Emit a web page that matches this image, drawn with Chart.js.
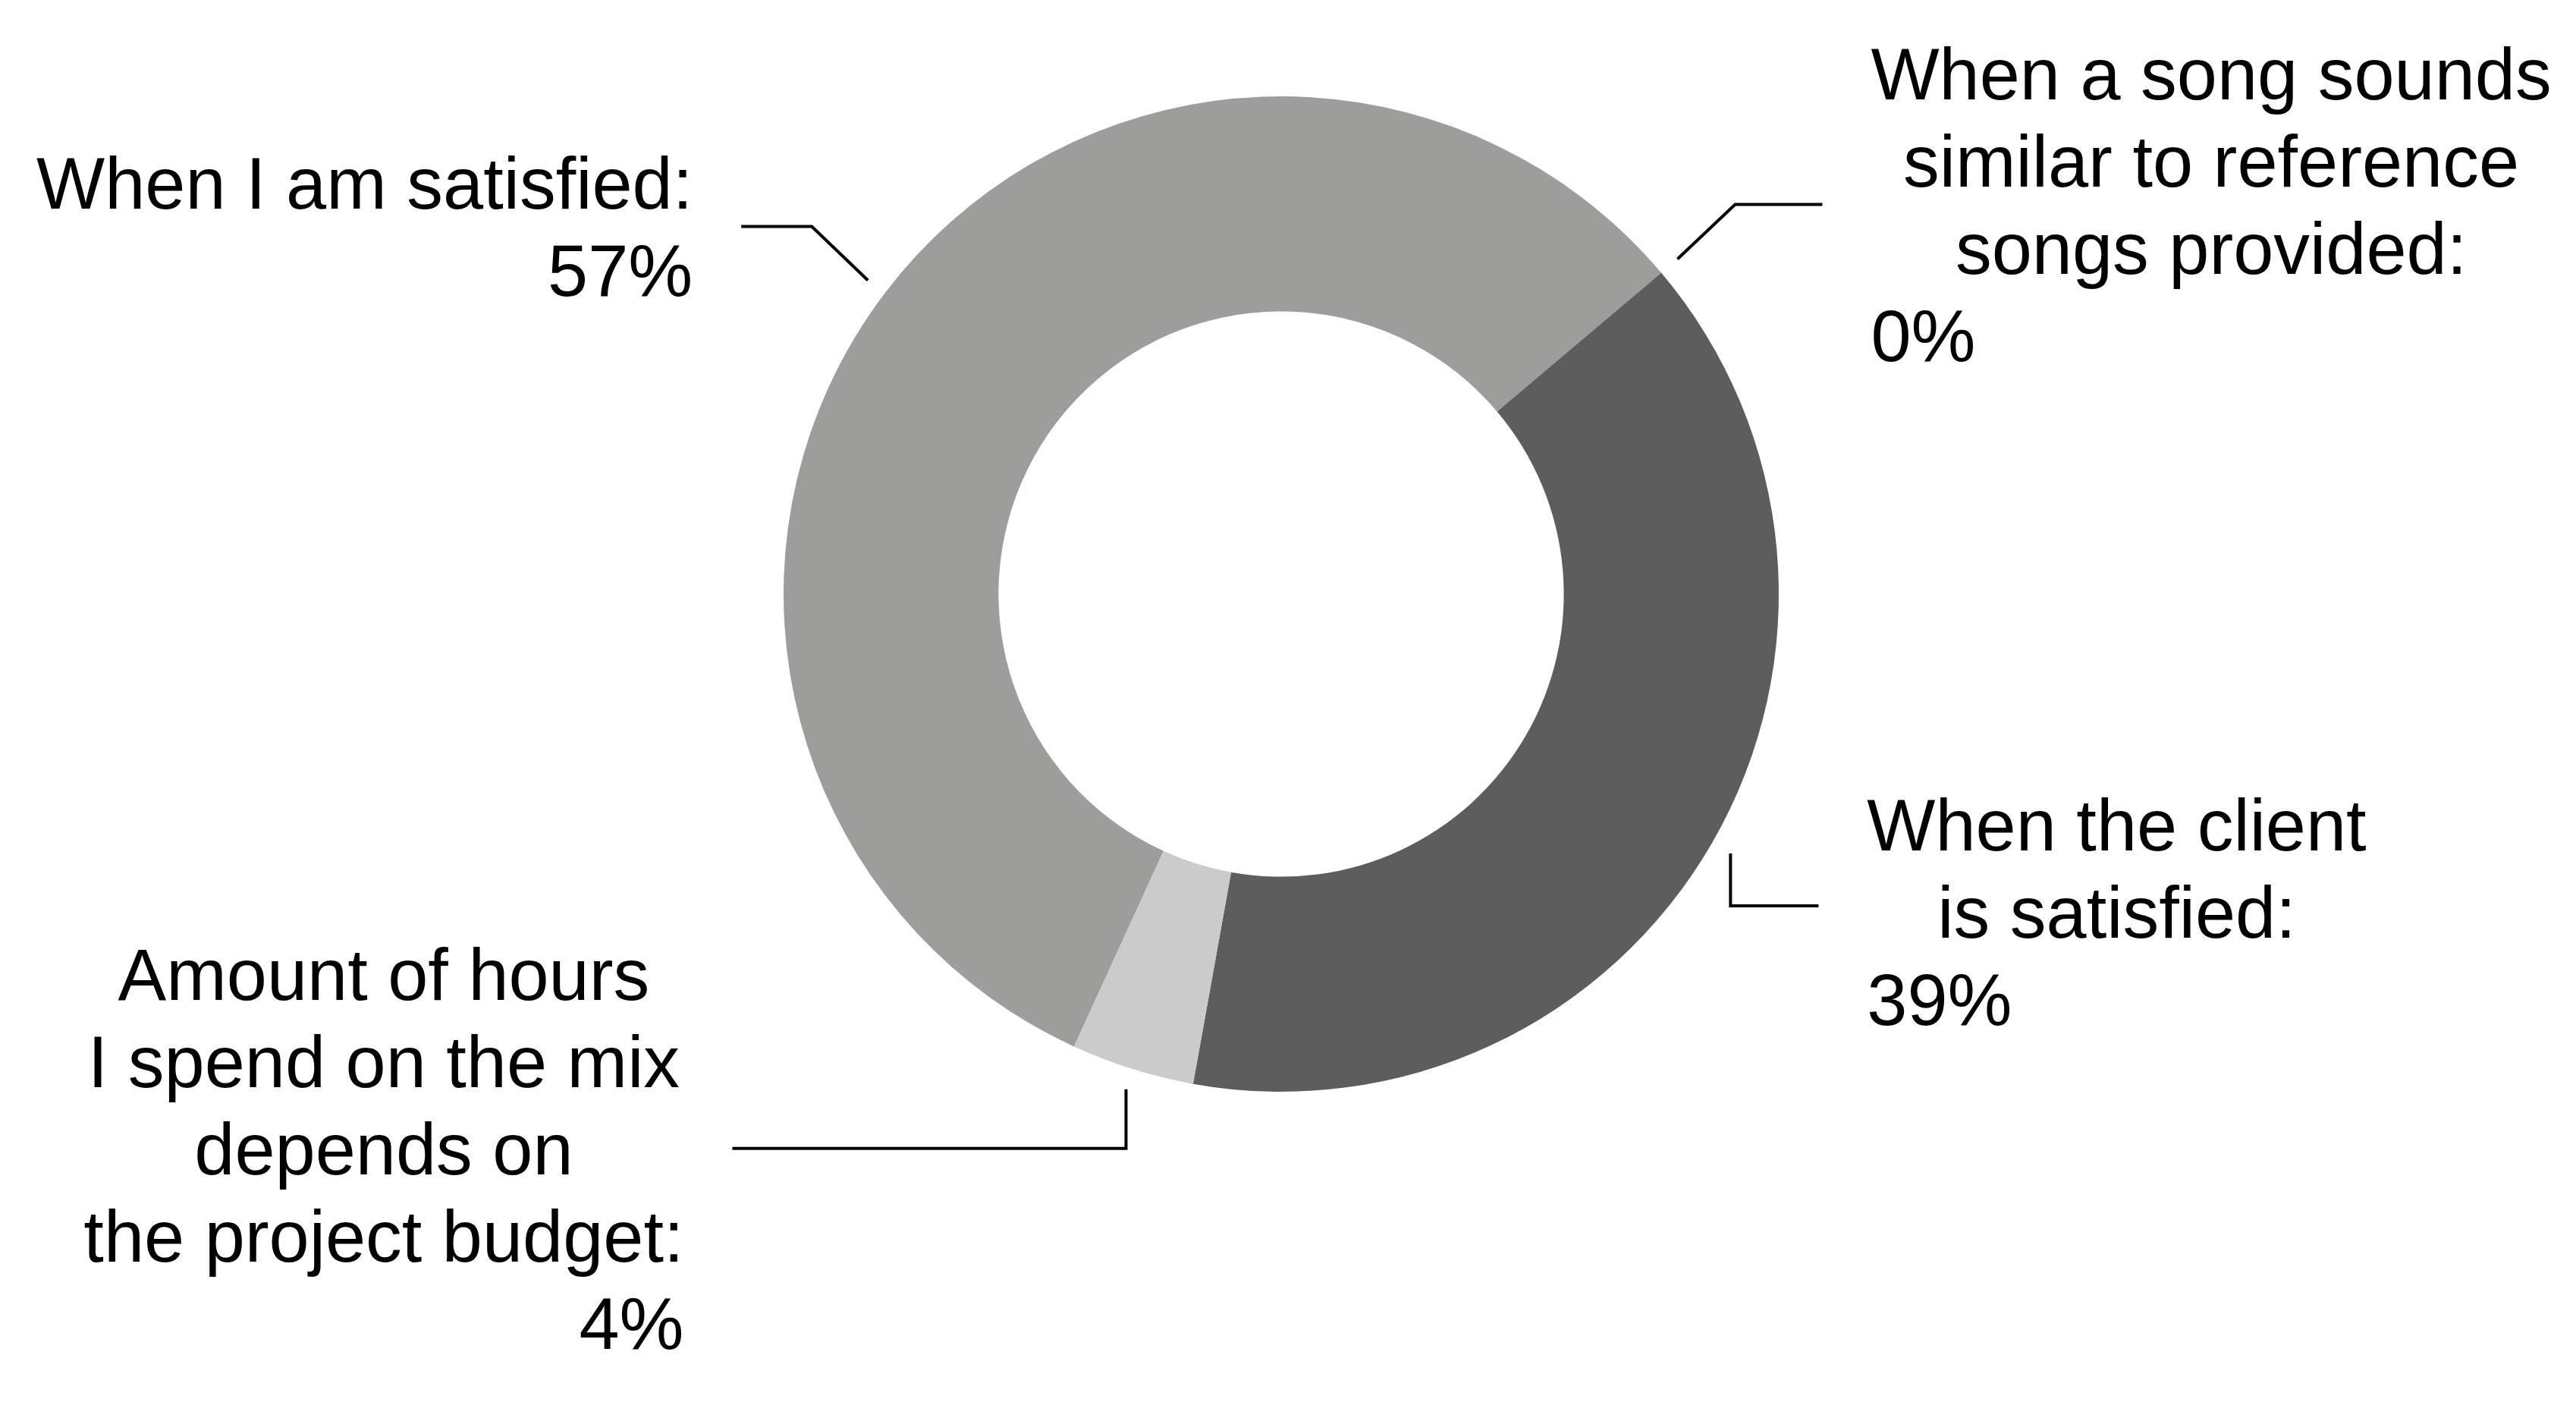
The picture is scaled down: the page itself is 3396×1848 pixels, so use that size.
<!DOCTYPE html>
<html>
<head>
<meta charset="utf-8">
<script src="https://cdn.jsdelivr.net/npm/chart.js@4.4.1/dist/chart.umd.min.js"></script>
<style>
  html, body { margin: 0; padding: 0; background: #fff; }
  #wrap { width: 3396px; height: 1848px; }
</style>
</head>
<body>
<div id="wrap"><canvas id="chart" width="3396" height="1848"></canvas></div>
<script>
const categories = [
  ['When I am satisfied:'],
  ['When a song sounds', 'similar to reference', 'songs provided:'],
  ['When the client', 'is satisfied:'],
  ['Amount of hours', 'I spend on the mix', 'depends on', 'the project budget:'],
]
const shares = [57, 0, 39, 4]
const sliceColors = ['#9d9d9c', '#8a8a8a', '#5d5d5d', '#cbcbcb']

// leader line per slice: bend from the ring, then a horizontal run
const leaders = [
  { bend: [-74, -71], run: -93, dy: 0 },
  { bend: [76, -72], run: 115, dy: 0 },
  { bend: [0, 69], run: 116, dy: 8 },
  { bend: [0, 78], run: -519, dy: 0 },
]

const FONT_SIZE = 95.5
const LINE_H = 115
const GAP = 64

const calloutPlugin = {
  id: 'callouts',
  afterDraw(chart) {
    const ctx = chart.ctx
    const meta = chart.getDatasetMeta(0)
    ctx.save()
    ctx.strokeStyle = '#000'
    ctx.lineWidth = 4
    ctx.lineJoin = 'miter'
    ctx.fillStyle = '#000'
    ctx.font = FONT_SIZE + 'px "Liberation Sans", Helvetica, Arial, sans-serif'
    ctx.textBaseline = 'alphabetic'

    meta.data.forEach((arc, i) => {
      const p = arc.getProps(['x', 'y', 'startAngle', 'endAngle', 'outerRadius'], true)
      const mid = (p.startAngle + p.endAngle) / 2
      const r = p.outerRadius + 28
      const sx = p.x + Math.cos(mid) * r
      const sy = p.y + Math.sin(mid) * r
      const ld = leaders[i]
      const bx = sx + ld.bend[0]
      const by = sy + ld.bend[1]
      const ex = bx + ld.run
      const ey = by

      ctx.beginPath()
      ctx.moveTo(sx, sy)
      ctx.lineTo(bx, by)
      ctx.lineTo(ex, ey)
      ctx.stroke()

      const lines = categories[i]
      const pct = shares[i] + '%'
      const n = lines.length + 1
      const maxW = Math.max(...lines.map((t) => ctx.measureText(t).width), ctx.measureText(pct).width)
      const left = ld.run < 0 ? ex - GAP - maxW : ex + GAP
      const right = left + maxW
      let base = ey - ((n - 1) * LINE_H) / 2 + 34 + ld.dy

      ctx.textAlign = 'center'
      lines.forEach((t) => {
        ctx.fillText(t, left + maxW / 2, base)
        base += LINE_H
      })
      if (ld.run < 0) {
        ctx.textAlign = 'right'
        ctx.fillText(pct, right, base)
      } else {
        ctx.textAlign = 'left'
        ctx.fillText(pct, left, base)
      }
    })
    ctx.restore()
  },
}

new Chart(document.getElementById('chart').getContext('2d'), {
  type: 'doughnut',
  data: {
    labels: categories,
    datasets: [
      {
        data: shares,
        backgroundColor: sliceColors,
        borderWidth: 0,
        hoverOffset: 0,
      },
    ],
  },
  options: {
    responsive: false,
    animation: false,
    cutout: '56.8%',
    rotation: 204.6,
    layout: {
      padding: { left: 1033, right: 1051, top: 127, bottom: 409 },
    },
    plugins: {
      legend: { display: false },
      tooltip: { enabled: false },
    },
  },
  plugins: [calloutPlugin],
})
</script>
</body>
</html>
